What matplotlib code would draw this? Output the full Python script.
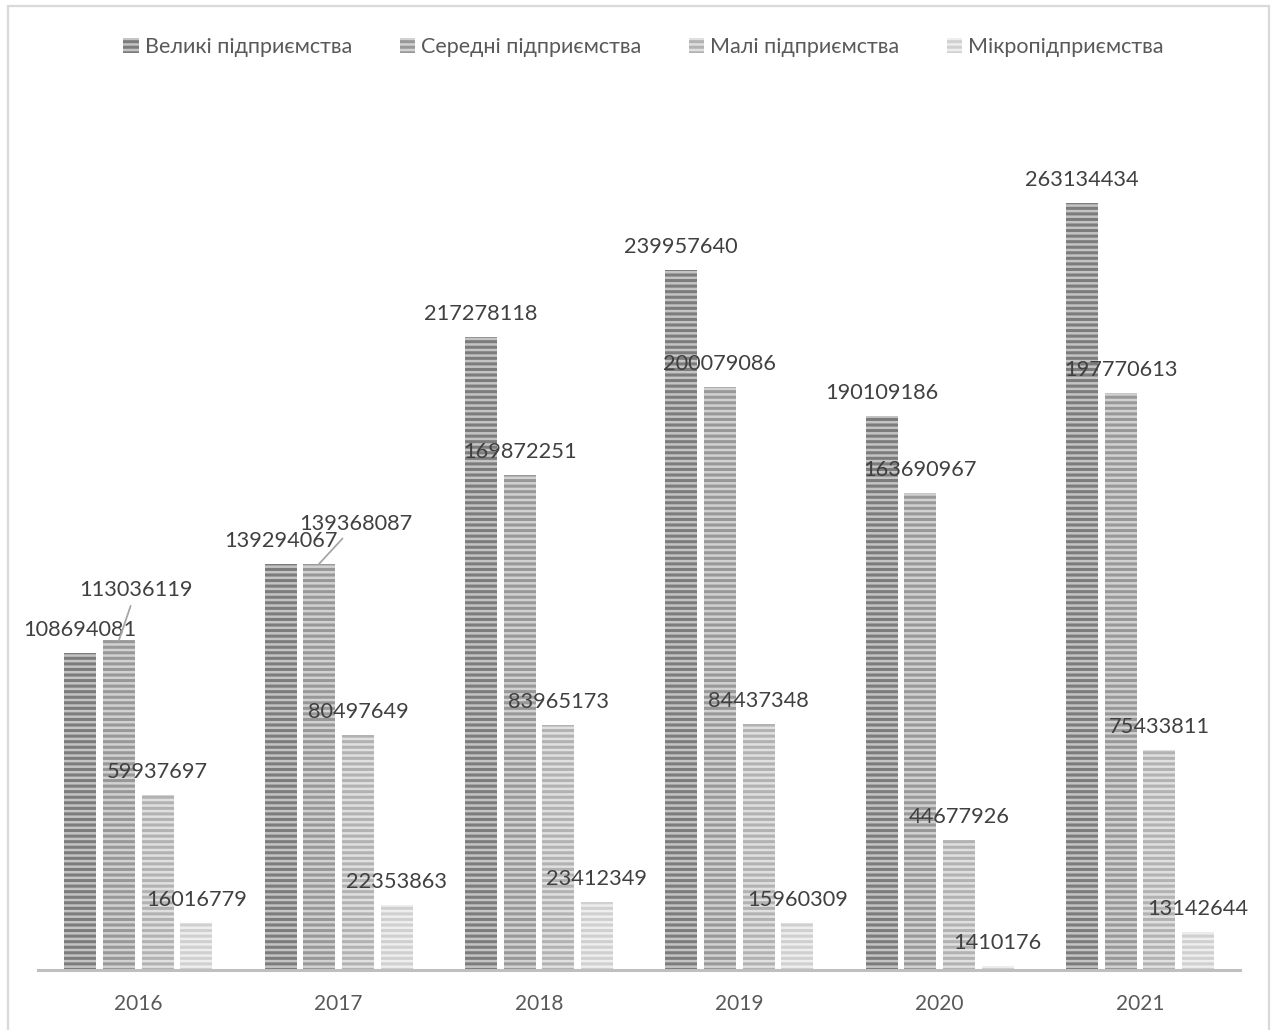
import numpy as np
import matplotlib
matplotlib.use("Agg")
import matplotlib.pyplot as plt
from matplotlib.patches import Rectangle

# data
years = ["2016", "2017", "2018", "2019", "2020", "2021"]
series_names = ["Великі підприємства", "Середні підприємства",
                "Малі підприємства", "Мікропідприємства"]
large = [108694081, 139294067, 217278118, 239957640, 190109186, 263134434]
medium = [113036119, 139368087, 169872251, 200079086, 163690967, 197770613]
small = [59937697, 80497649, 83965173, 84437348, 44677926, 75433811]
micro = [16016779, 22353863, 23412349, 15960309, 1410176, 13142644]

# stripe colours per series: (light face, dark stripe)
styles = [("#c4c4c4", "#7c7c7c"),
          ("#d2d2d2", "#989898"),
          ("#e0e0e0", "#b2b2b2"),
          ("#eeeeee", "#d0d0d0")]

# labels that Excel pushed aside (series index, year index) -> pixel offset
moved_labels = {(1, 0): (17, 50), (1, 1): (37, 40)}

plt.rcParams["font.family"] = ["Lato", "DejaVu Sans"]
plt.rcParams["hatch.linewidth"] = 2.2

fig = plt.figure(figsize=(12.72, 10.3), dpi=100)
ax = fig.add_axes([0.0299, 0.0583, 0.9450, 0.849])

x = np.arange(len(years))
width = 0.16
step = 0.193
all_series = [large, medium, small, micro]

handles = []
for k, (vals, name, (face, stripe)) in enumerate(zip(all_series, series_names, styles)):
    pos = x + (k - 1.5) * step
    bars = ax.bar(pos, vals, width, facecolor=face, edgecolor=stripe,
                  linewidth=0, hatch="---", label=name, zorder=2)
    handles.append(bars)
    for i, (px, v) in enumerate(zip(pos, vals)):
        if (k, i) in moved_labels:
            dx, dy = moved_labels[(k, i)]
            ax.annotate(f"{v}", xy=(px, v), xytext=(dx, dy),
                        textcoords="offset pixels", ha="center", va="center",
                        fontsize=15.7, color="#404040",
                        arrowprops=dict(arrowstyle="-", color="#a6a6a6", lw=1.3,
                                        shrinkA=2, shrinkB=0))
        else:
            ax.annotate(f"{v}", xy=(px, v), xytext=(0, 23),
                        textcoords="offset pixels", ha="center", va="center",
                        fontsize=15.7, color="#404040")

ax.set_xlim(-0.5, len(years) - 0.5)
ax.set_ylim(0, 300000000)
ax.set_xticks(x)
ax.set_xticklabels(years, fontsize=15, color="#595959")
ax.tick_params(axis="x", length=0, pad=17)
ax.set_yticks([])
for side in ["top", "right", "left"]:
    ax.spines[side].set_visible(False)
ax.spines["bottom"].set_color("#bfbfbf")
ax.spines["bottom"].set_linewidth(2.2)

fig.legend(handles=handles, labels=series_names, loc="upper center",
           bbox_to_anchor=(0.506, 0.983), ncol=4, frameon=False,
           fontsize=15.5, labelcolor="#595959", handlelength=0.7,
           handleheight=0.7, handletextpad=0.3, columnspacing=2.2)

# chart border
fig.patches.append(Rectangle((0.0059, -0.01), 0.9914, 1.004, transform=fig.transFigure,
                             fill=False, edgecolor="#d9d9d9", linewidth=1.6))

fig.savefig("out.png", dpi=100)
